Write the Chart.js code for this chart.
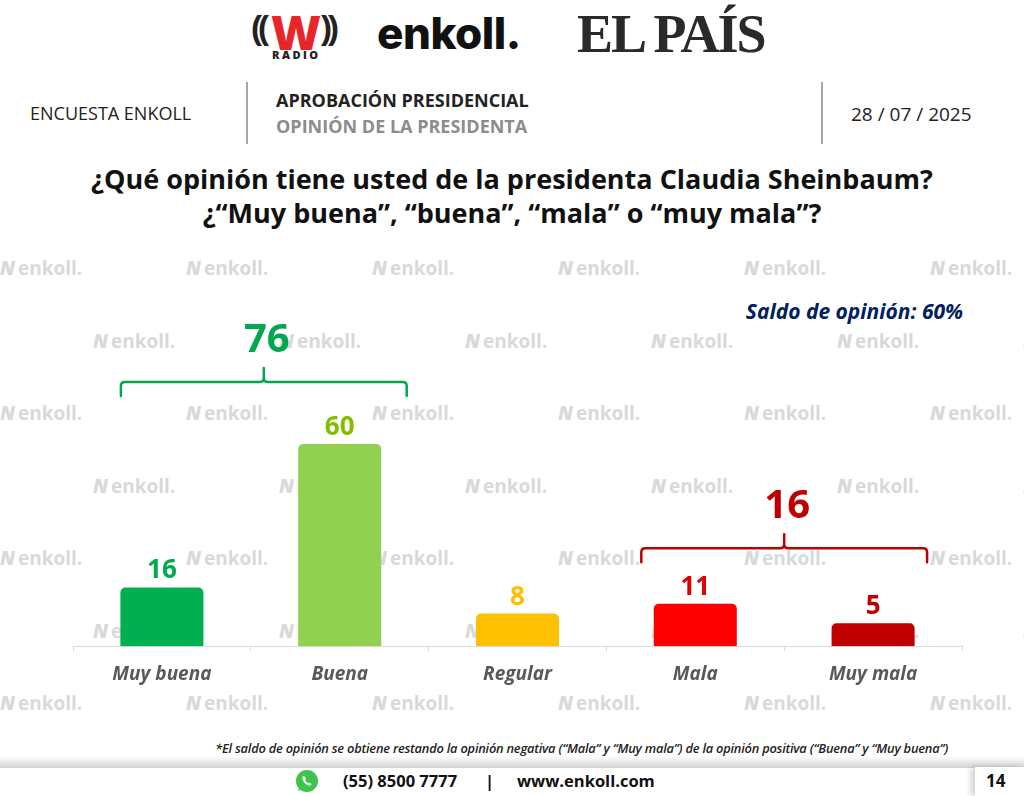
<!DOCTYPE html>
<html lang="es">
<head>
<meta charset="utf-8">
<title>Opinión de la presidenta</title>
<script src="https://cdn.jsdelivr.net/npm/chart.js@4.4.1/dist/chart.umd.min.js"></script>
<style>
  html, body { margin: 0; padding: 0; }
  body {
    width: 1024px; height: 796px; overflow: hidden; position: relative;
    background: #fff; font-family: "Open Sans", "Noto Sans", sans-serif; color: #222;
  }
  .abs { position: absolute; white-space: nowrap; }
  .wradio-w { left: 271px; top: -1px; font: 900 48px "Open Sans", sans-serif; color: #e8262a; letter-spacing: -2px; }
  .wradio-p { top: 9px; font: 700 33px "Liberation Sans", sans-serif; color: #222; letter-spacing: -4px; }
  .wradio-r { left: 272px; top: 47px; font: 800 11px "Open Sans", sans-serif; letter-spacing: 2.5px; color: #222; }
  .enkoll { left: 377px; top: 6px; font: 800 44px Inter, sans-serif; color: #111; letter-spacing: -0.5px; }
  .elpais { left: 577px; top: 3px; font: 700 54px "Liberation Serif", serif; color: #2a2a2a; letter-spacing: -2px; }
  .vline { position: absolute; width: 2px; background: #a6a6a6; top: 82px; height: 62px; }
  .hdr { font-size: 18px; }
  .title { left: 0; width: 1024px; text-align: center; font-weight: 700; font-size: 27px; color: #111; }
  .wm { position: absolute; font: 700 19px "Open Sans", sans-serif; color: #d9d9d9; white-space: nowrap; }
  .wm b { font-style: italic; font-weight: 800; margin-right: 3px; }
  .saldo { right: 61px; top: 297px; font: italic 700 21px "Open Sans", sans-serif; color: #002060; }
  canvas { position: absolute; left: 0; top: 290px; }
  .note { right: 76px; top: 739px; font: italic 600 12.8px "Open Sans", sans-serif; color: #222; letter-spacing: -0.2px; }
  .shadow { position: absolute; left: 0; top: 756px; width: 1024px; height: 12px;
    background: linear-gradient(#fff, #d4d4d4); }
  .foot { top: 769px; font: 700 16.5px "Open Sans", sans-serif; color: #111; }
  .pagebox { position: absolute; left: 975px; top: 767px; width: 49px; height: 29px; background: #fff;
    box-shadow: -4px 0 6px rgba(0,0,0,0.18); }
  .wa { position: absolute; left: 295px; top: 769px; }
</style>
</head>
<body>
  <div class="abs wradio-p" style="left:251px">((</div>
  <div class="abs wradio-w">W</div>
  <div class="abs wradio-p" style="left:321px">))</div>
  <div class="abs wradio-r">RADIO</div>
  <div class="abs enkoll">enkoll.</div>
  <div class="abs elpais">EL PAÍS</div>

  <div class="abs hdr" style="left:30px; top:101px;">ENCUESTA ENKOLL</div>
  <div class="vline" style="left:246px"></div>
  <div class="abs hdr" style="left:276px; top:88px; font-weight:700; color:#222;">APROBACIÓN PRESIDENCIAL</div>
  <div class="abs hdr" style="left:276px; top:114px; font-weight:700; color:#8c8c8c;">OPINIÓN DE LA PRESIDENTA</div>
  <div class="vline" style="left:821px"></div>
  <div class="abs hdr" style="left:851px; top:101px; font-size:19px;">28 / 07 / 2025</div>

  <div class="abs title" style="top:160px;">¿Qué opinión tiene usted de la presidenta Claudia Sheinbaum?</div>
  <div class="abs title" style="top:194px;">¿“Muy buena”, “buena”, “mala” o “muy mala”?</div>

  <div id="wm"></div>
  <div class="abs saldo" id="saldo"></div>
  <canvas id="chart" width="1024" height="420"></canvas>

  <div class="abs note">*El saldo de opinión se obtiene restando la opinión negativa (“Mala” y “Muy mala”) de la opinión positiva (“Buena” y “Muy buena”)</div>
  <div class="shadow"></div>
  <svg class="wa" width="24" height="24" viewBox="0 0 24 24">
    <circle cx="12" cy="12" r="11" fill="#3fc34f"/>
    <path d="M3 22 L5 16 L9 19 Z" fill="#3fc34f"/>
    <path d="M8 7 C7 8 7 10 9 13 C11 16 14 17 15.5 16.5 L16.5 15 L14.5 13.5 L13.2 14.3 C12 13.8 10.6 12.3 10.1 11 L11 9.8 L9.8 7.5 Z" fill="#fff"/>
  </svg>
  <div class="abs foot" style="left:343px">(55) 8500 7777</div>
  <div class="abs foot" style="left:485px">|</div>
  <div class="abs foot" style="left:517px">www.enkoll.com</div>
  <div class="pagebox"></div>
  <div class="abs foot" style="left:986px; font-size:17px;">14</div>

<script>
const categories = ['Muy buena', 'Buena', 'Regular', 'Mala', 'Muy mala'];
const values = [16, 60, 8, 11, 5];
const positiveGroup = [0, 1];
const negativeGroup = [3, 4];

const barColors = ['#00b050', '#92d050', '#ffc000', '#ff0000', '#c00000'];
const labelColors = ['#00a84f', '#84bd00', '#ffc000', '#e00000', '#c00000'];

const sum = (idx) => idx.reduce((s, i) => s + values[i], 0);
document.getElementById('saldo').textContent =
  `Saldo de opinión: ${sum(positiveGroup) - sum(negativeGroup)}%`;

// watermark grid behind the chart
const wm = document.getElementById('wm');
for (let r = 0; r < 7; r += 1) {
  const y = 255 + r * 72.5;
  const start = r % 2 === 0 ? 0 : 93;
  for (let x = start; x < 1024; x += 186) {
    const d = document.createElement('div');
    d.className = 'wm';
    d.style.left = `${x}px`;
    d.style.top = `${y}px`;
    d.innerHTML = '<b>N</b>enkoll.';
    wm.appendChild(d);
  }
}

const brackets = [
  { idx: positiveGroup, level: 79, dl: -41, dr: 67, color: '#00a84f' },
  { idx: negativeGroup, level: 28, dl: -54, dr: 54, color: '#c00000' },
];

const labelsPlugin = {
  id: 'labels',
  afterDatasetsDraw(chart) {
    const { ctx } = chart;
    const xs = chart.scales.x;
    const ys = chart.scales.y;
    const meta = chart.getDatasetMeta(0);
    ctx.save();
    ctx.textAlign = 'center';
    ctx.textBaseline = 'alphabetic';
    ctx.font = '700 26px "Open Sans"';
    meta.data.forEach((bar, i) => {
      ctx.fillStyle = labelColors[i];
      ctx.fillText(String(values[i]), bar.x, bar.y - 9);
    });

    brackets.forEach((b) => {
      const left = xs.getPixelForValue(b.idx[0]) + b.dl;
      const right = xs.getPixelForValue(b.idx[b.idx.length - 1]) + b.dr;
      const cx = (left + right) / 2;
      const y = ys.getPixelForValue(b.level);
      const r = 4;
      ctx.strokeStyle = b.color;
      ctx.lineWidth = 2.5;
      ctx.lineCap = 'round';
      ctx.beginPath();
      ctx.moveTo(left, y + 14);
      ctx.lineTo(left, y + r);
      ctx.quadraticCurveTo(left, y, left + r, y);
      ctx.lineTo(cx - r, y);
      ctx.quadraticCurveTo(cx, y, cx, y - r);
      ctx.lineTo(cx, y - 14);
      ctx.moveTo(cx, y - r);
      ctx.quadraticCurveTo(cx, y, cx + r, y);
      ctx.lineTo(right - r, y);
      ctx.quadraticCurveTo(right, y, right, y + r);
      ctx.lineTo(right, y + 14);
      ctx.stroke();

      ctx.fillStyle = b.color;
      ctx.font = '700 40px "Open Sans"';
      ctx.fillText(String(sum(b.idx)), cx + 3, y - 30);
    });
    ctx.restore();
  },
};

const ctx = document.getElementById('chart').getContext('2d');
// eslint-disable-next-line no-unused-vars
const chart = new Chart(ctx, {
  type: 'bar',
  data: {
    labels: categories,
    datasets: [{
      data: values,
      backgroundColor: barColors,
      borderRadius: { topLeft: 5, topRight: 5 },
      borderSkipped: 'bottom',
      base: -2,
      barPercentage: 0.467,
      categoryPercentage: 1,
    }],
  },
  options: {
    responsive: false,
    animation: false,
    events: [],
    layout: { padding: { left: 73, right: 62, top: 30, bottom: 12 } },
    plugins: { legend: { display: false }, tooltip: { enabled: false } },
    scales: {
      x: {
        grid: { drawOnChartArea: false, drawTicks: true, tickLength: 5, color: '#d9d9d9' },
        border: { color: '#d9d9d9', width: 1 },
        ticks: {
          color: '#595959',
          padding: 12,
          font: { family: '"Open Sans"', size: 19, weight: '700', style: 'italic' },
        },
      },
      y: { display: false, min: -2, max: 98 },
    },
  },
  plugins: [labelsPlugin],
});
</script>
</body>
</html>
